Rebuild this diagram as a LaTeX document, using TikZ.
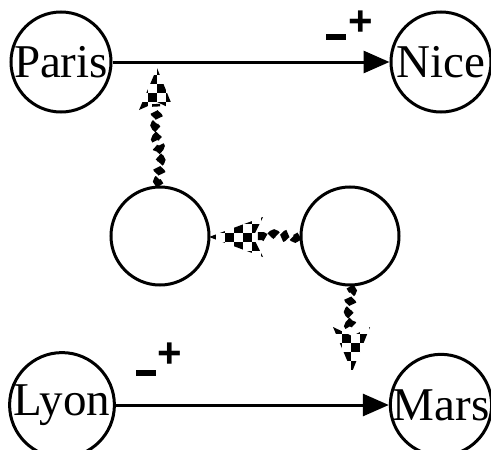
\documentclass[tikz,border=0pt]{standalone}
\usepackage{fontspec}
\setmainfont{Liberation Serif}
\setsansfont{Liberation Sans}
\usetikzlibrary{decorations.pathmorphing,arrows.meta}
\tikzset{
  city/.style={circle,draw,line width=3pt,minimum size=100pt,inner sep=0pt,font=\fontsize{47}{47}\selectfont},
  empty/.style={circle,draw,line width=3pt,minimum size=98pt,inner sep=0pt},
  link/.style={line width=3pt,-{Triangle[length=26pt,width=22pt]}},
  squig/.style={line width=8pt,dash pattern=on 8pt off 6pt,decorate,decoration={snake,segment length=14pt,amplitude=2.5pt}},
  sign/.style={font=\sffamily\bfseries\fontsize{42}{42}\selectfont,inner sep=0pt}
}
\newcommand{\chkfill}[4]{%
  \foreach \i in {0,...,#3}{
    \foreach \j in {0,...,#4}{
      \pgfmathtruncatemacro{\chkpar}{mod(\i+\j,2)}
      \ifnum\chkpar=0 \fill (#1+9*\i,#2+9*\j) rectangle ++(9,9);\fi
    }}}
\begin{document}
\begin{tikzpicture}[x=1pt,y=-1pt]
\useasboundingbox (0,0) rectangle (491,450);
\node[city] (paris) at (61,62) {Paris};
\node[city] (nice) at (441,62) {Nice};
\node[city] (lyon) at (62,405) {Lyon};
\node[city] (mars) at (441,405) {Mars};
\node[empty] (c1) at (160,236) {};
\node[empty] (c2) at (350,236) {};
\draw[link] (paris) -- (nice);
\draw[link] (lyon) -- (mars);
\node[sign] (m1) at (336,37) {\rule{20pt}{6pt}};
\node[sign] (p1) at (361,23) {+};
\node[sign] (m2) at (146,373) {\rule{20pt}{6pt}};
\node[sign] (p2) at (170,355) {+};
% up arrow
\coordinate (t1) at (157,68);
\coordinate (b1) at (156,104);
\draw[squig] (c1.north) -- (b1);
\begin{scope}
\clip (t1) -- (174,110) -- (157,102) -- (139,110) -- cycle;
\chkfill{139}{66}{4}{5}
\end{scope}
% left arrow
\coordinate (t2) at (209,237);
\coordinate (b2) at (256,236);
\draw[squig] (c2.west) -- (b2);
\begin{scope}
\clip (t2) -- (263,217) -- (253,237) -- (263,257) -- cycle;
\chkfill{207}{215}{6}{5}
\end{scope}
% down arrow
\coordinate (t3) at (352,372);
\coordinate (b3) at (351,332);
\draw[squig] (c2.south) -- (b3);
\begin{scope}
\clip (t3) -- (370,327) -- (352,336) -- (333,327) -- cycle;
\chkfill{333}{325}{4}{5}
\end{scope}
\end{tikzpicture}
\end{document}
